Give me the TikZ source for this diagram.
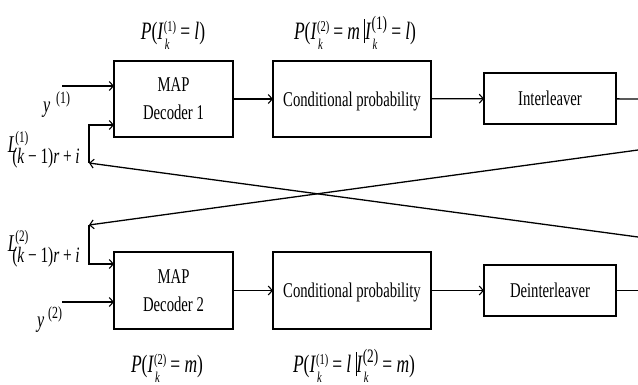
\documentclass[tikz,border=0pt]{standalone}
\usepackage{fontspec}
\setmainfont{Liberation Serif}[FakeStretch=0.7]
\usetikzlibrary{arrows.meta}
\newcommand\tsz[1]{\fontsize{#1}{#1}\selectfont}
% #1 sup, #2 sub, #3 raise sup, #4 lower sub
\newcommand\SupSub[4]{\setbox0\hbox{#1}\setbox2\hbox{#2}%
  \ifdim\wd0>\wd2 \rlap{\raisebox{-#4}{\copy2}}\raisebox{#3}{\copy0}%
  \else\rlap{\raisebox{#3}{\copy0}}\raisebox{-#4}{\copy2}\fi}
\newcommand\Ik[4]{\textit{I}\SupSub{\tsz{#1}#2}{\tsz{15}\kern1pt\textit{k}}{#3}{#4}}
\tikzset{
  blk/.style={draw, line width=1.3pt, inner sep=0pt, outer sep=0pt, align=center,
    font=\tsz{21}, text depth=0pt},
  lbl/.style={inner sep=0pt, outer sep=0pt},
  conn/.style={line width=1.3pt},
  arr/.style={conn, -{Straight Barb[length=4pt,width=9pt,line width=1.1pt]}},
}
\begin{document}
\begin{tikzpicture}[x=1pt,y=-1pt]
\useasboundingbox (0,0) rectangle (638,384);
% blocks
\node[blk, minimum width=119pt, minimum height=76pt] (dec1) at (173.5,99) {MAP\\[7pt]Decoder 1};
\node[blk, minimum width=158pt, minimum height=76pt] (cond1) at (352,99) {Conditional probability};
\node[blk, minimum width=132pt, minimum height=51pt] (int) at (550,98.5) {Interleaver};
\node[blk, minimum width=119pt, minimum height=77pt] (dec2) at (173.5,290.5) {MAP\\[7pt]Decoder 2};
\node[blk, minimum width=158pt, minimum height=77pt] (cond2) at (352,290.5) {Conditional probability};
\node[blk, minimum width=132pt, minimum height=51pt] (deint) at (550,290.5) {Deinterleaver};
% free ends
\coordinate (y1in) at (62,86);
\coordinate (y2in) at (62,302);
\coordinate (fb1) at (89,163);
\coordinate (fb1t) at (89,125);
\coordinate (fb2) at (89,225);
\coordinate (fb2b) at (89,264);
\coordinate (outI) at (638,99);
\coordinate (outD) at (638,290.5);
\coordinate (rA) at (638,237);
\coordinate (rB) at (638,150);
% connectors
\draw[arr] (dec1) -- (cond1);
\draw[arr] (cond1) -- (int);
\draw[conn] (int) -- (outI);
\draw[arr] (dec2) -- (cond2);
\draw[arr] (cond2) -- (deint);
\draw[conn] (deint) -- (outD);
\draw[arr] (y1in) -- (y1in -| dec1.west);
\draw[arr] (y2in) -- (y2in -| dec2.west);
\draw[arr] (rA) -- (fb1);
\draw[arr] (rB) -- (fb2);
\draw[arr] (fb1) -- (fb1t) -- (fb1t -| dec1.west);
\draw[arr] (fb2) -- (fb2b) -- (fb2b -| dec2.west);
% labels
\node[lbl, anchor=base] (p1) at (173,39) {\tsz{25}\textit{P}(\Ik{15}{(1)}{8pt}{10pt}\,=\,\textit{l})};
\node[lbl, anchor=base] (p2) at (355,39) {\tsz{25}\textit{P}(\Ik{15}{(2)}{8pt}{10pt}\,=\,\textit{m}\,\rule[-4pt]{0.8pt}{24pt}\Ik{19}{(1)}{10pt}{10pt}\,=\,\textit{l})};
\node[lbl, anchor=base] (p3) at (167,372) {\tsz{25}\textit{P}(\Ik{15}{(2)}{8pt}{10pt}\,=\,\textit{m})};
\node[lbl, anchor=base] (p4) at (354,372) {\tsz{25}\textit{P}(\Ik{15}{(1)}{8pt}{10pt}\,=\,\textit{l}\,\rule[-4pt]{0.8pt}{24pt}\Ik{19}{(2)}{10pt}{10pt}\,=\,\textit{m})};
\node[lbl, anchor=base west] (L1) at (8,152) {\tsz{24}\textit{L}\SupSub{\tsz{16}\kern-2pt(1)}{\tsz{22}\kern-5pt(\textit{k}\,−\,1)\textit{r}\,+\,\textit{i}}{10pt}{11pt}};
\node[lbl, anchor=base west] (L2) at (8,251) {\tsz{24}\textit{L}\SupSub{\tsz{16}\kern-2pt(2)}{\tsz{22}\kern-5pt(\textit{k}\,−\,1)\textit{r}\,+\,\textit{i}}{10pt}{11pt}};
\node[lbl, anchor=base west] (ylab1) at (43,112) {\tsz{23}\textit{y}\kern6pt\raisebox{9pt}{\tsz{17}(1)}};
\node[lbl, anchor=base west] (ylab2) at (37,327) {\tsz{23}\textit{y}\kern4pt\raisebox{9pt}{\tsz{17}(2)}};
\end{tikzpicture}
\end{document}
